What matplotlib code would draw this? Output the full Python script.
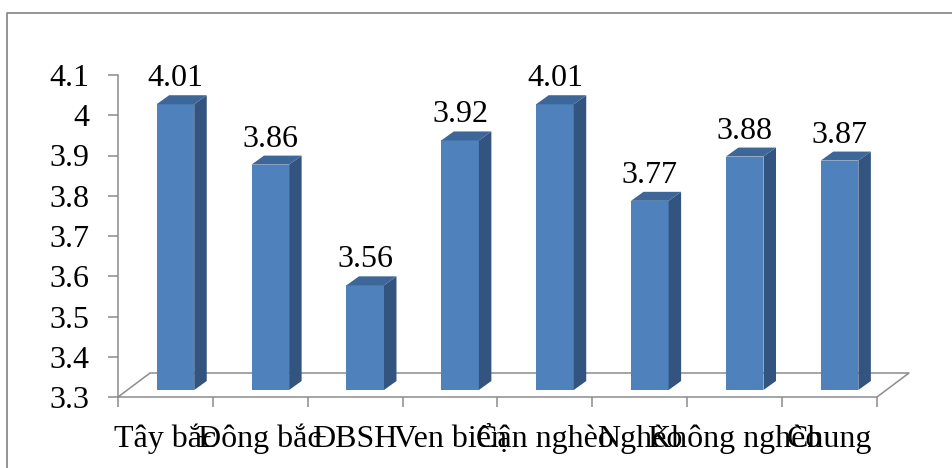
import numpy as np
import matplotlib.pyplot as plt
from matplotlib.lines import Line2D

plt.rcParams['font.family'] = ['Liberation Serif', 'DejaVu Serif']

categories = ['Tây bắc', 'Đông bắc', 'ĐBSH', 'Ven biển', 'Cận nghèo', 'Nghèo', 'Không nghèo', 'Chung']
scores = [4.01, 3.86, 3.56, 3.92, 4.01, 3.77, 3.88, 3.87]
y_ticks = [3.3, 3.4, 3.5, 3.6, 3.7, 3.8, 3.9, 4.0, 4.1]
y_tick_labels = ['3.3', '3.4', '3.5', '3.6', '3.7', '3.8', '3.9', '4', '4.1']

grey = '#8c8c8c'
front_col = '#4f81bd'
side_col = '#33547f'
top_col = '#3d6699'

fig = plt.figure(figsize=(9.53, 4.68), dpi=100)
ax = fig.add_axes([118 / 953, 71 / 468, 759 / 953, 322 / 468])
ymin, ymax = y_ticks[0], y_ticks[-1]
n = len(categories)
ax.set_xlim(0, n)
ax.set_ylim(ymin, ymax)

# pixel -> data unit conversion for the fake 3D offsets
bb = ax.get_window_extent()
px_x = n / bb.width
px_y = (ymax - ymin) / bb.height

# floor of the 3D plot
fdx, fdy = 32 * px_x, 24 * px_y
ax.plot([0, n, n + fdx, fdx, 0], [ymin, ymin, ymin + fdy, ymin + fdy, ymin],
        color=grey, lw=1.1, clip_on=False, zorder=1)

# bars: front face + side + top
ox, oy = 10 * px_x, 7 * px_y
bw = 37.6 * px_x
dx, dy = 12.5 * px_x, 9 * px_y
xc = np.arange(n) + 0.5 + ox
vals = np.array(scores)
ax.bar(xc, vals - ymin, bottom=ymin + oy, width=bw, color=front_col,
       zorder=3, clip_on=False)
for x, v in zip(xc, vals):
    xl, xr = x - bw / 2, x + bw / 2
    b, t = ymin + oy, v + oy
    ax.fill([xr, xr, xr + dx, xr + dx], [b, t, t + dy, b + dy],
            color=side_col, zorder=3, clip_on=False, lw=0)
    ax.fill([xl, xr, xr + dx, xl + dx], [t, t, t + dy, t + dy],
            color=top_col, zorder=3, clip_on=False, lw=0)
    ax.annotate(f'{v:.2f}', xy=(x, t + dy), xytext=(0, 6.5),
                textcoords='offset points', ha='center', va='baseline',
                fontsize=23)

# axes styling
for s in ['top', 'right', 'bottom']:
    ax.spines[s].set_visible(False)
ax.spines['left'].set_color(grey)
ax.spines['left'].set_linewidth(1.1)

ax.set_yticks(y_ticks, y_tick_labels)
ax.tick_params(axis='y', direction='out', length=7.2, width=1.1, color=grey,
               pad=13.5, labelsize=23)
ax.set_xticks(range(n + 1), [''] * (n + 1))
ax.tick_params(axis='x', direction='out', length=7.2, width=1.1, color=grey)

# category labels (they overlap, as in the source chart)
xt = ax.get_xaxis_transform()
for i, c in enumerate(categories):
    ax.text(i + 0.5, -50 / 322, c, transform=xt, ha='center', va='baseline',
            fontsize=23)

# chart area border
bx, by = 7.5 / 953, 1 - 12.7 / 468
fig.add_artist(Line2D([bx, bx, 1.0], [0.0, by, by], color=grey, lw=1.3))

fig.savefig('out.png', dpi=100)
